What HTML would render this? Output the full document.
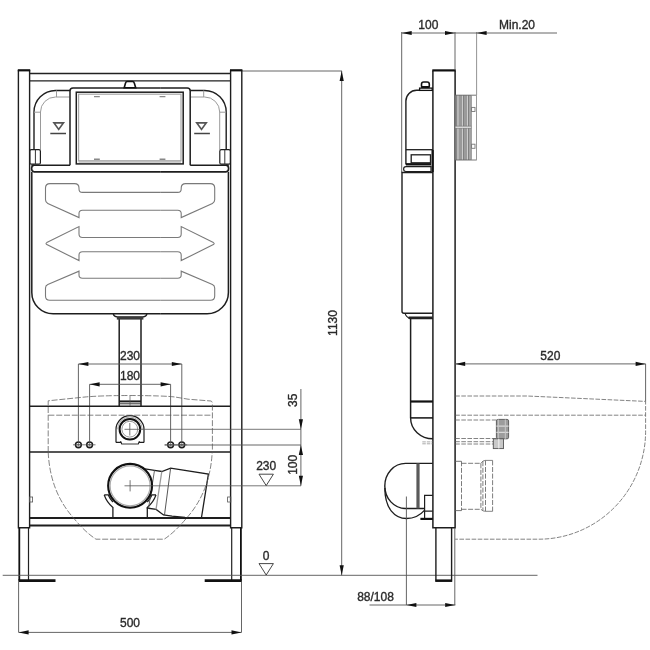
<!DOCTYPE html>
<html><head><meta charset="utf-8"><style>
html,body{margin:0;padding:0;background:#fff;width:650px;height:650px;overflow:hidden}
svg{display:block}
text{font-family:"Liberation Sans",sans-serif;fill:#2a2a2a;font-size:12px;stroke:#2a2a2a;stroke-width:0.35}
svg{will-change:transform}
</style></head><body>
<svg width="650" height="650" viewBox="0 0 650 650" fill="none" stroke-linecap="butt">
<defs>
<g id="half">
 <!-- post -->
 <path d="M18.4,70 V527.7 H29.6 V70" stroke="#1e1e1e" stroke-width="1.4"/>
 <path d="M17.8,70.3 H30.2" stroke="#111" stroke-width="2.2"/>
 <!-- leg -->
 <path d="M19.3,527.7 V580.5" stroke="#111" stroke-width="1.8"/>
 <path d="M28.5,527.7 V580.5" stroke="#222" stroke-width="1.2"/>
 <path d="M18.4,580.6 H55.5" stroke="#111" stroke-width="2.6"/>
 <!-- top rail -->
 
 <!-- tank upper side -->
 <path d="M70,90.5 H55.5 A21.5,21.5 0 0 0 34,112 V149.7" stroke="#1e1e1e" stroke-width="1.4"/>
 <path d="M69.5,97 H55.5 A15,15 0 0 0 40.5,112 V149.7" stroke="#9a9a9a" stroke-width="1"/>
 <path d="M56.5,90.5 V97 M34,112.2 H40.5" stroke="#9a9a9a" stroke-width="1"/>
 <rect x="29.8" y="149.7" width="10.6" height="14.5" rx="1.5" stroke="#1e1e1e" stroke-width="1.2"/>
 <path d="M35.4,149.7 V164" stroke="#333" stroke-width="1"/>
 <path d="M70,165.3 H31.5" stroke="#1e1e1e" stroke-width="1.5"/>
 <!-- plate frame -->
 <path d="M70,165.3 V91 Q70,88 73,88 H100" stroke="#1e1e1e" stroke-width="1.5"/>
 
 
 
 <!-- triangle symbol -->
 <path d="M54,122.9 H63.4 L58.7,129.4 Z" stroke="#555" stroke-width="1.7" stroke-linejoin="miter"/>
 <path d="M50.3,133.5 H66" stroke="#444" stroke-width="1.5"/>
 <!-- band -->
 <path d="M100,171.9 H34.2 A2.6,3.3 0 0 1 34.2,165.3" stroke="#1e1e1e" stroke-width="1.6"/>
 <!-- tank body -->
 <path d="M31.8,171.9 V292.5 A21.3,21.3 0 0 0 53.1,313.8 H100" stroke="#1e1e1e" stroke-width="1.5"/>
 <!-- waves -->
 <g stroke="#7a7a7a" stroke-width="1.1">
  <path d="M100,192.4 H82.5 Q79,192.4 79,189 V188 Q79,183.6 74.5,183.6 H50 Q45.5,183.6 45.5,188 V199.8 Q45.5,202.3 47.8,203.4 L79,217.6 V213.5 Q79,210.2 82.5,210.2 H100"/>
  <path d="M100,237.5 H82.5 Q79,237.5 79,234 V226.6 L46.8,242.6 Q45.2,243.6 46.8,244.6 L79,260.6 V255 Q79,251.7 82.5,251.7 H100"/>
  <path d="M100,278.2 H82.5 Q79,278.2 79,275 V271.2 L47.8,284.4 Q45.5,285.4 45.5,288 V296 Q45.5,300.3 49.8,300.3 H100"/>
 </g>
 <!-- flange & pipe -->
 
 
 <path d="M119.2,319 V406.3" stroke="#1e1e1e" stroke-width="1.5"/>
 
 
 <!-- crossbars -->
 
 
 <!-- small bracket -->
 <rect x="29.4" y="497" width="3.2" height="5" stroke="#555" stroke-width="0.8"/>
 <!-- bolts -->
 <g stroke="#1e1e1e">
  <circle cx="78.4" cy="444.8" r="2.9" stroke-width="1.5"/>
  <circle cx="89.6" cy="444.8" r="2.9" stroke-width="1.5"/>
  <path d="M78.4,442.8 V446.8 M76.4,444.8 H80.4 M89.6,442.8 V446.8 M87.6,444.8 H91.6" stroke-width="0.7" stroke="#555"/>
 </g>
 <path d="M73,444.8 H95.5" stroke="#444" stroke-width="0.7"/>
 <!-- ext lines for 230/180 -->
 <path d="M78.4,364 V442 M89.6,384.3 V442" stroke="#555" stroke-width="0.9"/>
</g>
<path id="arrR" d="M0,0 L-9,-2 L-9,2 Z" fill="#111" stroke="none"/>
</defs>

<use href="#half"/>
<use href="#half" transform="translate(260.2,0) scale(-1,1)"/>


<!-- full-width centre lines -->
<path d="M29.4,73.5 H230.8 M29.4,80.9 H230.8" stroke="#222" stroke-width="1.4"/>
<path d="M100,88 H160.2" stroke="#1e1e1e" stroke-width="1.5"/>
<rect x="78.6" y="160.4" width="102.4" height="2.8" fill="#cfcfcf" stroke="none"/>
<rect x="76.3" y="92.2" width="106.9" height="71.7" stroke="#1e1e1e" stroke-width="1.5"/>
<rect x="78.6" y="94.2" width="102.4" height="66.6" stroke="#a8a8a8" stroke-width="1.2"/>
<path d="M100,171.9 H160.2" stroke="#1e1e1e" stroke-width="1.6"/>
<path d="M100,313.8 H160.2" stroke="#1e1e1e" stroke-width="1.5"/>
<path d="M100,192.4 H160.2 M100,210.2 H160.2 M100,237.5 H160.2 M100,251.7 H160.2 M100,278.2 H160.2 M100,300.3 H160.2" stroke="#7a7a7a" stroke-width="1.1"/>
<path d="M113.3,313.8 Q113.8,316.7 117.2,316.9 H143 Q146.4,316.7 146.9,313.8" stroke="#1e1e1e" stroke-width="1.3"/>
<rect x="116.8" y="316.9" width="26.6" height="2.7" fill="#3a3a3a" stroke="none"/>
<path d="M119.2,401.4 H141" stroke="#1e1e1e" stroke-width="2"/>
<path d="M119.2,403.8 H141" stroke="#333" stroke-width="1"/>
<path d="M29.4,406.3 H230.8 M29.4,452 H230.8" stroke="#1e1e1e" stroke-width="1.6"/>
<path d="M29.4,518 H230.8 M29.4,525.5 H230.8" stroke="#1e1e1e" stroke-width="1.8"/>

<path d="M94,96.6 H99.8 M159.6,96.6 H165.4 M94,159.3 H99.8 M159.6,159.3 H165.4" stroke="#888" stroke-width="1.4"/>
<!-- knob -->
<path d="M124.2,87.8 L125.6,82.8 Q125.9,81.5 127.2,81.5 H132.6 Q133.9,81.5 134.2,82.8 L135.7,87.8 Z" stroke="#111" stroke-width="1.6" fill="#fff"/>

<!-- inlet -->
<path d="M116,442.4 V429.5 A14,13.8 0 0 1 144,429.5 V442.4" stroke="#1e1e1e" stroke-width="1.2"/>
<path d="M116,442.4 H121 M139,442.4 H144" stroke="#1e1e1e" stroke-width="1.2"/>
<path d="M120.5,441.2 L121.8,444 H138.2 L139.5,441.2" stroke="#1e1e1e" stroke-width="1.2" fill="#fff"/>
<path d="M122,444 H138" stroke="#aaa" stroke-width="1"/>
<path d="M117.6,429.3 A12.3,12.3 0 0 1 142.2,429.3" stroke="#999" stroke-width="0.8"/>
<circle cx="129.9" cy="429.3" r="10.3" stroke="#111" stroke-width="2"/>
<circle cx="129.8" cy="429.2" r="7.9" stroke="#888" stroke-width="0.9"/>
<path d="M124.5,429.3 H301" stroke="#555" stroke-width="0.8"/>
<path d="M129.8,423 V435.5" stroke="#555" stroke-width="0.8"/>
<path d="M130,396 V406" stroke="#555" stroke-width="0.7"/>

<!-- outlet -->
<path d="M104.2,494.9 A27.5,27.5 0 0 0 112.9,507.4 V518 M104.2,494.9 H108.3 A23.6,23.6 0 0 0 112.9,502" stroke="#1e1e1e" stroke-width="1.3"/>
<path d="M156,494.9 A27.5,27.5 0 0 1 147.3,507.4 V518 M156,494.9 H151.9 A23.6,23.6 0 0 1 147.3,502" stroke="#1e1e1e" stroke-width="1.3"/>
<!-- elbow -->
<path d="M145,468.8 L154.5,470.3 L161.8,471.5 L170.6,468.2 L208.4,474.1 L201.4,518" stroke="#1e1e1e" stroke-width="1.3" fill="none"/>
<path d="M146.8,508 L156.1,509.4 L163.5,515 L172,516.2 L185,517.5" stroke="#1e1e1e" stroke-width="1.3"/>
<path d="M154.5,470.3 L148.5,508.5" stroke="#555" stroke-width="0.9"/>
<path d="M161.8,471.5 L156,509.5" stroke="#999" stroke-width="1.3"/>
<path d="M170.6,468.2 L164.5,515" stroke="#444" stroke-width="0.9"/>
<circle cx="130.1" cy="485.8" r="21.9" stroke="#111" stroke-width="2.2" fill="#fff"/>
<circle cx="130.1" cy="485.8" r="20" stroke="#aaa" stroke-width="1.2"/>
<path d="M124.5,485.8 H301" stroke="#555" stroke-width="0.8"/>
<path d="M130.1,480.2 V491.4" stroke="#555" stroke-width="0.8"/>

<!-- dashed toilet outline (front) -->
<g stroke="#5a5a5a" stroke-width="0.75" stroke-dasharray="6,1.8">
 <path d="M48.2,452 V400.8 L85,397 Q100,395.6 130,395.5 Q165,395.7 175,397 L188,399.2 L211,401 Q212.4,401.5 212.4,404 V452"/>
 <path d="M48.4,415.2 H212.3"/>
 <path d="M48.2,452 Q50,492 74,518.5 Q85,532 96,539.2 H164.2 Q175,532 186.2,518.5 Q210.2,492 212.2,452"/>
</g>

<!-- dimensions front -->
<g stroke="#555" stroke-width="0.9">
 <path d="M78.4,364 H181.8 M89.6,384.3 H170.6"/>
 <path d="M242,71 H342"/>
 <path d="M341.7,71 V575.3"/>
 <path d="M300.9,389 V485.8"/>
 <path d="M164.6,445 H301"/>
 <path d="M18.6,582 V632.4 M241.5,582 V632.4 M18.6,632.4 H241.5"/>
 <path d="M2.7,575.3 H537.5"/>
</g>
<g fill="#111">
 <path d="M78.4,364 l10,-2.1 v4.2 z"/>
 <path d="M181.8,364 l-10,-2.1 v4.2 z"/>
 <path d="M89.6,384.3 l10,-2.1 v4.2 z"/>
 <path d="M170.6,384.3 l-10,-2.1 v4.2 z"/>
 <path d="M341.7,71 l-2.1,10 h4.2 z"/>
 <path d="M341.7,575.3 l-2.1,-10 h4.2 z"/>
 <path d="M300.9,429.3 l-2.1,-10 h4.2 z"/>
 <path d="M300.9,445 l-2.1,10 h4.2 z"/>
 <path d="M300.9,485.8 l-2.1,-10 h4.2 z"/>
 <path d="M18.6,632.4 l10,-2.1 v4.2 z"/>
 <path d="M241.5,632.4 l-10,-2.1 v4.2 z"/>
</g>
<path d="M259,474.2 H273.4 L266.2,485.6 Z" stroke="#333" stroke-width="0.9"/>
<path d="M259,563.6 H273.4 L266.2,575 Z" stroke="#333" stroke-width="0.9"/>

<text x="130" y="360" text-anchor="middle" font-size="12">230</text>
<text x="130" y="380.3" text-anchor="middle" font-size="12">180</text>
<text x="266.2" y="469.6" text-anchor="middle" font-size="12">230</text>
<text x="266.2" y="560" text-anchor="middle" font-size="12">0</text>
<text x="130" y="627.4" text-anchor="middle" font-size="12">500</text>
<text transform="translate(337.3,323) rotate(-90)" text-anchor="middle" font-size="12">1130</text>
<text transform="translate(297,400.3) rotate(-90)" text-anchor="middle" font-size="12">35</text>
<text transform="translate(297,464.8) rotate(-90)" text-anchor="middle" font-size="12">100</text>

<!-- ===== SIDE VIEW ===== -->
<!-- panel -->
<path d="M432.9,70.5 V527.7 H455.1 V70.5" stroke="#1e1e1e" stroke-width="1.5"/>
<path d="M432.3,70.4 H455.7" stroke="#111" stroke-width="2.2"/>
<path d="M432.6,150 V172" stroke="#111" stroke-width="2.2"/>
<!-- ext/dim lines top -->
<g stroke="#555" stroke-width="0.9">
 <path d="M401.7,32 V172.5 M455,32 V70"/>
 <path d="M476.6,32 V95" stroke="#888"/>
 <path d="M401.7,33 H557"/>
</g>
<g fill="#111">
 <path d="M401.7,33 l10,-2.1 v4.2 z"/>
 <path d="M455,33 l-10,-2.1 v4.2 z"/>
 <path d="M476.6,33 l10,-2.1 v4.2 z"/>
</g>
<text x="428.3" y="28.8" text-anchor="middle" font-size="12">100</text>
<text x="517" y="28.6" text-anchor="middle" font-size="12">Min.20</text>
<!-- tank upper -->
<path d="M432.9,90.3 H416.6 A10.8,10.8 0 0 0 405.9,101.1 V164.5" stroke="#1e1e1e" stroke-width="1.4"/>
<rect x="421.5" y="82" width="7.8" height="6" rx="2.2" stroke="#111" stroke-width="1.6" fill="#fff"/>
<rect x="421.5" y="86" width="7.8" height="2.2" fill="#111" stroke="none"/>
<rect x="419.6" y="88.1" width="12.6" height="2.3" stroke="#111" stroke-width="1.3" fill="#fff"/>
<path d="M405.9,149.7 H432.9" stroke="#1e1e1e" stroke-width="1.3"/>
<rect x="411.2" y="154.8" width="19.3" height="8" stroke="#1e1e1e" stroke-width="1.3"/>
<path d="M405.9,164.3 H431" stroke="#111" stroke-width="2.4"/>
<path d="M431,166.6 H406 A2.4,2.45 0 0 0 406,171.5 H431 Z" stroke="#1e1e1e" stroke-width="1.2"/>
<!-- tank lower -->
<path d="M432.9,172.5 H402 V311.3 Q402,313.3 404,313.3 H432.9" stroke="#1e1e1e" stroke-width="1.4"/>
<path d="M405.2,313.5 Q405.6,316.4 409.8,318.6 H432.9" stroke="#1e1e1e" stroke-width="1.2"/>
<rect x="408.6" y="316.5" width="24" height="2.5" fill="#222" stroke="none"/>
<!-- pipe -->
<path d="M410.6,318.6 V418" stroke="#1e1e1e" stroke-width="1.5"/>
<path d="M410.6,401.5 H432.9" stroke="#111" stroke-width="2.2"/>
<path d="M410.6,417.9 H432.9" stroke="#111" stroke-width="1.5"/>
<path d="M410.6,418 A22.3,20.8 0 0 0 432.9,438.8" stroke="#1e1e1e" stroke-width="1.4"/>
<path d="M422.3,441.9 H432.3 M422.3,443.8 H432.3" stroke="#aaa" stroke-width="1" stroke-dasharray="3.5,1"/>
<!-- elbow side -->
<path d="M432.8,463.4 H405.5 A20.7,22.55 0 0 0 405.5,508.5 H424.4" stroke="#1e1e1e" stroke-width="1.4"/>
<path d="M384.85,488 C384.9,509 395,518.5 406.5,518.5 C414,518.5 420,515.5 424.4,510.4" stroke="#1e1e1e" stroke-width="1.3"/>
<rect x="416.4" y="463.4" width="3.2" height="45" fill="#5a5a5a" stroke="none"/>
<path d="M432.8,495.4 H424.6 V518.5 M424.6,511.2 H432.8" stroke="#1e1e1e" stroke-width="1.2"/>
<path d="M420.4,518.9 H432.8" stroke="#111" stroke-width="2.2"/>
<!-- leg -->
<path d="M435.9,527.7 V581 H451.6 V527.7" stroke="#1e1e1e" stroke-width="1.4"/>
<path d="M435.5,580.6 H452" stroke="#111" stroke-width="2.4"/>
<!-- rear block -->
<rect x="455.5" y="95.2" width="15.9" height="64.8" fill="#b8b8b8" stroke="none"/>
<rect x="458.9" y="95.2" width="3.3" height="64.8" fill="#999" stroke="none"/>
<rect x="464.1" y="95.2" width="2.9" height="64.8" fill="#9a9a9a" stroke="none"/>
<rect x="469" y="95.2" width="2" height="64.8" fill="#a5a5a5" stroke="none"/>
<path d="M456.3,95.2 V160 M463.5,95.2 V160 M468.5,95.2 V160" stroke="#6a6a6a" stroke-width="0.8"/>
<path d="M462.6,95.2 V160 M467.6,95.2 V160" stroke="#e0e0e0" stroke-width="0.6"/>
<rect x="455.5" y="126.3" width="15.9" height="1.8" fill="#f2f2f2" stroke="none"/>
<path d="M455.2,126.2 H471.4 M455.2,128.2 H471.4" stroke="#777" stroke-width="0.7"/>
<path d="M455.2,95.2 H476 M455.2,160 H476" stroke="#666" stroke-width="0.9"/>
<path d="M476.5,94.5 V160.5" stroke="#999" stroke-width="1"/>
<path d="M471.4,95.2 V160" stroke="#888" stroke-width="0.8"/>
<rect x="471.6" y="107.4" width="3.4" height="4.1" stroke="#777" stroke-width="0.9"/>
<rect x="471.6" y="144.2" width="3.4" height="4.1" stroke="#777" stroke-width="0.9"/>
<!-- dims bottom -->
<g stroke="#555" stroke-width="0.9">
 <path d="M406.4,496.5 V605 M454.8,528 V605 M369.5,605 H455.4"/>
 <path d="M455,363.9 H645.6 M645.6,363.9 V401.4"/>
</g>
<g fill="#111">
 <path d="M406.4,605 l10,-2.1 v4.2 z"/>
 <path d="M455.2,605 l-10,-2.1 v4.2 z"/>
 <path d="M455.2,363.9 l10,-2.1 v4.2 z"/>
 <path d="M645.6,363.9 l-10,-2.1 v4.2 z"/>
</g>
<text x="375.5" y="600.5" text-anchor="middle" font-size="12">88/108</text>
<text x="550.3" y="359.5" text-anchor="middle" font-size="12">520</text>
<!-- dashed toilet side -->
<g stroke="#5a5a5a" stroke-width="0.75" stroke-dasharray="4.6,1.5">
 <path d="M455.2,396 H527 L645.6,401.4 V430 A107,108 0 0 1 539,539.2 H455.2"/>
 <path d="M455.2,415.2 H645.6"/>
 <path d="M455.2,420 H497 M455.2,438.5 H500 M455.2,441.7 H500 M455.2,444 H500"/>
 
</g>
<!-- side outlet -->
<path d="M455.4,461.3 H461.5 M455.4,510.6 H461.5" stroke="#666" stroke-width="0.9"/>
<g stroke="#5a5a5a" stroke-width="0.8" stroke-dasharray="5,1.6">
 <path d="M461.5,461.3 V510.6"/>
 <path d="M461.5,463.3 H480.9 M461.5,509.3 H480.9"/>
 <path d="M480.9,463.3 V509.3"/>
 <path d="M482.9,461.2 V510.5 M485.5,460.4 V511.3 M492.6,460.4 V511.3"/>
</g>
<path d="M480.9,463.3 L483,461 L485.5,460.4 H492.6 M480.9,509.3 L483,510.9 L485.5,511.3 H492.6" stroke="#666" stroke-width="0.8"/>
<!-- fitting -->
<rect x="496.4" y="419.4" width="12.2" height="19.4" rx="1.5" fill="#9c9c9c" stroke="#555" stroke-width="0.9"/>
<path d="M496.4,426.2 H508.6 M496.4,432.3 H508.6" stroke="#d8d8d8" stroke-width="1.3"/>
<path d="M498.3,419.4 V438.8 M505.3,419.4 V438.8" stroke="#c8c8c8" stroke-width="1"/>
<rect x="493.3" y="438.8" width="10.2" height="9.8" fill="#c8c8c8" stroke="#555" stroke-width="0.9"/>
<path d="M498.8,438.8 V448.6" stroke="#eee" stroke-width="1.2"/>
</svg>
</body></html>
